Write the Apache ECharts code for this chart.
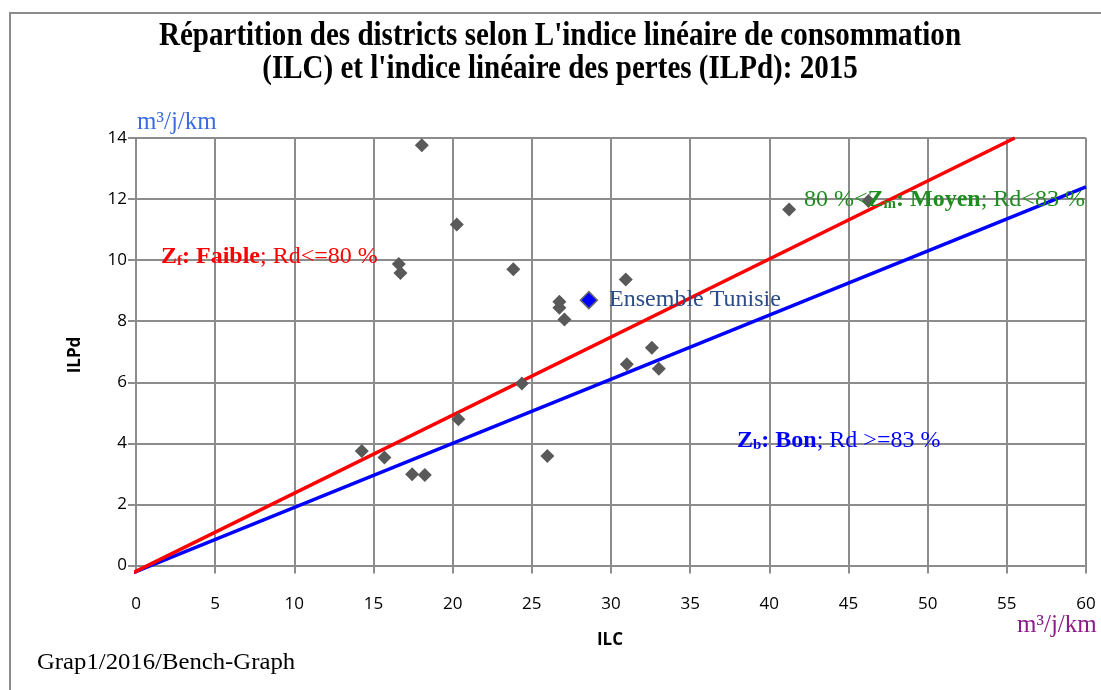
<!DOCTYPE html>
<html>
<head>
<meta charset="utf-8">
<script src="https://cdn.jsdelivr.net/npm/echarts@6/dist/echarts.min.js"></script>
<style>
html,body{margin:0;padding:0;background:#fff;}
#c{width:1101px;height:690px;}
</style>
</head>
<body>
<div id="c"></div>
<script>
// Districts: [ILC, ILPd]
var districtPoints = [
  [18.05, 13.76], [20.26, 11.17], [16.6, 9.87], [16.7, 9.58], [23.83, 9.70],
  [30.93, 9.37], [26.74, 8.64], [26.74, 8.44], [27.06, 8.06], [24.37, 5.96],
  [31.0, 6.59], [32.58, 7.13], [33.02, 6.44], [20.36, 4.79], [14.26, 3.75],
  [15.69, 3.54], [17.44, 2.99], [18.24, 2.96], [25.98, 3.59], [41.25, 11.66],
  [46.26, 11.94]
];
var ensemblePoint = [[28.6, 8.69]];
var ensembleLabel = 'Ensemble Tunisie';
var lineFaible = [[-0.2, -0.24], [55.5, 14.0]];   // Rd = 80 %
var lineBon = [[-0.2, -0.24], [60.0, 12.4]];      // Rd = 83 %
var xTicks = {min: 0, max: 60, interval: 5};
var yTicks = {min: 0, max: 14, interval: 2};
var titleLines = ["Répartition des districts selon L'indice linéaire de consommation",
                  "(ILC) et l'indice linéaire des pertes (ILPd): 2015"];
var xName = 'ILC';
var yName = 'ILPd';
var unitLabel = 'm³/j/km';
var footer = 'Grap1/2016/Bench-Graph';

var chart = echarts.init(document.getElementById('c'), null, {renderer: 'canvas'});
var serif = '"Liberation Serif", "Times New Roman", serif';
var sans = '"Open Sans", "Liberation Sans", sans-serif';
var gridColor = '#8c8c8c';

function zoneLabel(left, top, color, pre, sub, bold, rest) {
  var rich = {
    b: {font: 'bold 24px ' + serif, fill: color, color: color},
    s: {font: 'bold 15px ' + serif, fill: color, color: color, verticalAlign: 'bottom', lineHeight: 24, padding: [9,0,0,0]},
    n: {font: '24px ' + serif, fill: color, color: color}
  };
  var txt = (pre ? '{n|' + pre + '}' : '') + '{b|Z}{s|' + sub + '}{b|' + bold + '}{n|' + rest + '}';
  return {type: 'text', left: left, top: top, z: 100, style: {text: txt, fill: color, rich: rich}};
}

var option = {
  backgroundColor: '#fff',
  animation: false,
  grid: {left: 136, right: 15, top: 138, bottom: 124.5, containLabel: false},
  xAxis: {
    type: 'value', min: xTicks.min, max: xTicks.max, interval: xTicks.interval,
    axisLine: {show: true, lineStyle: {color: gridColor, width: 2}},
    axisTick: {show: true, length: 8, lineStyle: {color: gridColor, width: 2}},
    axisLabel: {fontFamily: sans, fontSize: 17, color: '#000', margin: 30},
    splitLine: {show: true, lineStyle: {color: gridColor, width: 2}}
  },
  yAxis: {
    type: 'value', min: yTicks.min, max: yTicks.max, interval: yTicks.interval,
    axisLine: {show: true, lineStyle: {color: gridColor, width: 2}},
    axisTick: {show: true, length: 8, lineStyle: {color: gridColor, width: 2}},
    axisLabel: {fontFamily: sans, fontSize: 17, color: '#000', margin: 9},
    splitLine: {show: true, lineStyle: {color: gridColor, width: 2}}
  },
  series: [
    {
      type: 'line', data: lineFaible, symbol: 'none', clip: false, z: 3,
      lineStyle: {color: '#ff0000', width: 3.5}
    },
    {
      type: 'line', data: lineBon, symbol: 'none', clip: false, z: 2,
      lineStyle: {color: '#0000ff', width: 3.5}
    },
    {
      type: 'scatter', data: districtPoints, symbol: 'diamond', symbolSize: 14, z: 4,
      itemStyle: {color: '#595959', opacity: 1}
    },
    {
      type: 'scatter', data: ensemblePoint, symbol: 'diamond', symbolSize: 17, z: 5,
      itemStyle: {color: '#0000ff', borderColor: '#6a6a6a', borderWidth: 1.5, opacity: 1},
      label: {show: true, position: 'right', distance: 11, formatter: ensembleLabel,
        fontFamily: serif, fontSize: 24, color: '#2a4d8a'}
    }
  ],
  graphic: [
    {type: 'rect', shape: {x: 10, y: 13, width: 1200, height: 800}, silent: true, z: -10,
      style: {fill: 'none', stroke: '#8c8c8c', lineWidth: 2}},
    {type: 'text', x: 560, y: 36, scaleX: 0.88, style: {text: titleLines[0], x: 0, y: 0, textAlign: 'center', textVerticalAlign: 'middle', font: 'bold 33px ' + serif, fill: '#000'}},
    {type: 'text', x: 560, y: 69, scaleX: 0.88, style: {text: titleLines[1], x: 0, y: 0, textAlign: 'center', textVerticalAlign: 'middle', font: 'bold 33px ' + serif, fill: '#000'}},
    {type: 'text', x: 75, y: 355, rotation: Math.PI / 2, style: {text: yName, x: 0, y: 0, textAlign: 'center', textVerticalAlign: 'middle', font: 'bold 17px ' + sans, fill: '#000'}},
    {type: 'text', x: 610, y: 640, style: {text: xName, x: 0, y: 0, textAlign: 'center', textVerticalAlign: 'middle', font: 'bold 17px ' + sans, fill: '#000'}},
    {type: 'text', left: 137, top: 110, style: {text: unitLabel, font: '25px ' + serif, fill: '#3d6be0'}},
    {type: 'text', left: 1017, top: 613, style: {text: unitLabel, font: '25px ' + serif, fill: '#8b1a8b'}},
    {type: 'text', x: 37, y: 663, scaleX: 1.03, style: {text: footer, x: 0, y: 0, textVerticalAlign: 'middle', font: '24px ' + serif, fill: '#000'}},
    zoneLabel(161, 245, '#ff0000', '', 'f', ': Faible', '; Rd<=80 %'),
    zoneLabel(804, 188, '#1e8c1e', '80 %<', 'm', ': Moyen', '; Rd<83 %'),
    zoneLabel(737, 429, '#0000ff', '', 'b', ': Bon', '; Rd >=83 %')
  ]
};
chart.setOption(option);
</script>
</body>
</html>
